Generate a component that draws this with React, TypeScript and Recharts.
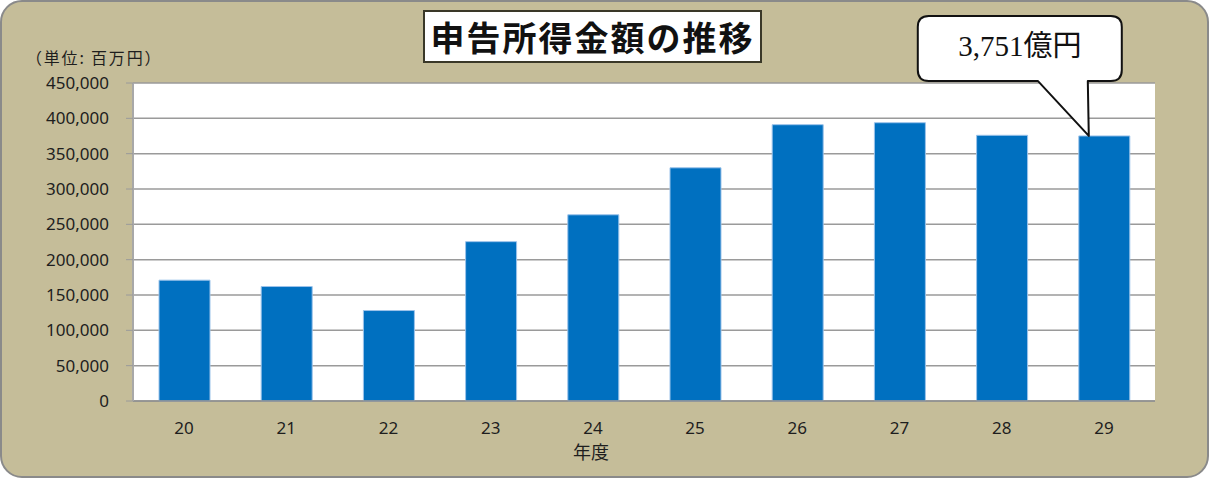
import { BarChart, Bar, XAxis, YAxis, CartesianGrid, LabelList } from 'recharts';

const years = ['20', '21', '22', '23', '24', '25', '26', '27', '28', '29'];
const amounts = [171000, 162000, 128000, 225500, 263500, 330000, 391000, 393800, 376000, 375100];
const yTicks = [0, 50000, 100000, 150000, 200000, 250000, 300000, 350000, 400000, 450000];
const calloutText = '3,751億円';
const calloutIndex = 9;

const chartData = years.map((y, i) => ({ year: y, amount: amounts[i] }));

const tickStyle = { fill: '#1e1e1e', fontSize: 17, fontFamily: '"Noto Sans", sans-serif' };

function Callout(props: any) {
  const { x, y, index } = props;
  if (index !== calloutIndex) return null;
  const tx = x + 10;
  const ty = y;
  const L = tx - 171, R = tx + 33, T = ty - 120, B = ty - 55, r = 11;
  const d = `M${L + r},${T} H${R - r} Q${R},${T} ${R},${T + r} V${B - r} Q${R},${B} ${R - r},${B} H${tx - 1} L${tx},${ty} L${tx - 51},${B} H${L + r} Q${L},${B} ${L},${B - r} V${T + r} Q${L},${T} ${L + r},${T} Z`;
  return (
    <g>
      <path d={d} fill="#fff" stroke="#111" strokeWidth={2} strokeLinejoin="round" />
      <text x={(L + R) / 2} y={T + 40} textAnchor="middle" fontSize={29}
        fontFamily='"Liberation Serif", "Noto Sans CJK JP", serif' fill="#111">{calloutText}</text>
    </g>
  );
}

export default function App() {
  return (
    <div style={{ position: 'absolute', left: 0, top: 0, width: 1209, height: 478 }}>
      <div style={{
        position: 'absolute', left: 0, top: 0, width: 1205, height: 474,
        background: '#C5BD99', border: '2px solid #8a8a8a', borderRadius: 22,
      }} />
      <div style={{ position: 'absolute', left: 0, top: 0 }}>
        <BarChart width={1207} height={476} data={chartData}
          margin={{ top: 83, right: 52, bottom: 0, left: 0 }}>
          <CartesianGrid vertical={false} fill="#fff" stroke="#9a9a9a" strokeWidth={1.5} />
          <XAxis dataKey="year" height={75} axisLine={{ stroke: '#8f8f8f', strokeWidth: 1.5 }}
            tickLine={false} tickSize={6} tickMargin={15} tick={tickStyle} />
          <YAxis width={133} domain={[0, 450000]} ticks={yTicks} interval={0}
            axisLine={{ stroke: '#a8a8a8', strokeWidth: 2 }} tickLine={{ stroke: '#9a9a9a' }}
            tickSize={7} tickMargin={17} tick={tickStyle}
            tickFormatter={(v: number) => v.toLocaleString('en-US')} />
          <Bar dataKey="amount" fill="#0070C0" stroke="#9cc3ea" strokeWidth={1} barSize={51}
            isAnimationActive={false}>
            <LabelList dataKey="amount" content={<Callout />} />
          </Bar>
        </BarChart>
      </div>
      <div style={{
        position: 'absolute', left: 423, top: 10, width: 335, height: 49,
        background: '#fff', border: '2px solid #3a3828',
        display: 'flex', alignItems: 'center', justifyContent: 'center',
        fontFamily: '"Noto Sans CJK JP", sans-serif', fontWeight: 700, fontSize: 34,
        letterSpacing: 2, color: '#111', lineHeight: 1,
      }}>申告所得金額の推移</div>
      <div style={{
        position: 'absolute', left: 26, top: 47, fontSize: 16, color: '#1e1e1e', letterSpacing: 1.8,
        fontFamily: '"Noto Sans CJK JP", sans-serif', lineHeight: '20px', whiteSpace: 'nowrap',
      }}>（単位: 百万円）</div>
      <div style={{
        position: 'absolute', left: 551, top: 440, width: 80, textAlign: 'center', fontSize: 18,
        color: '#1e1e1e', fontFamily: '"Noto Sans CJK JP", sans-serif', lineHeight: '22px',
      }}>年度</div>
    </div>
  );
}
